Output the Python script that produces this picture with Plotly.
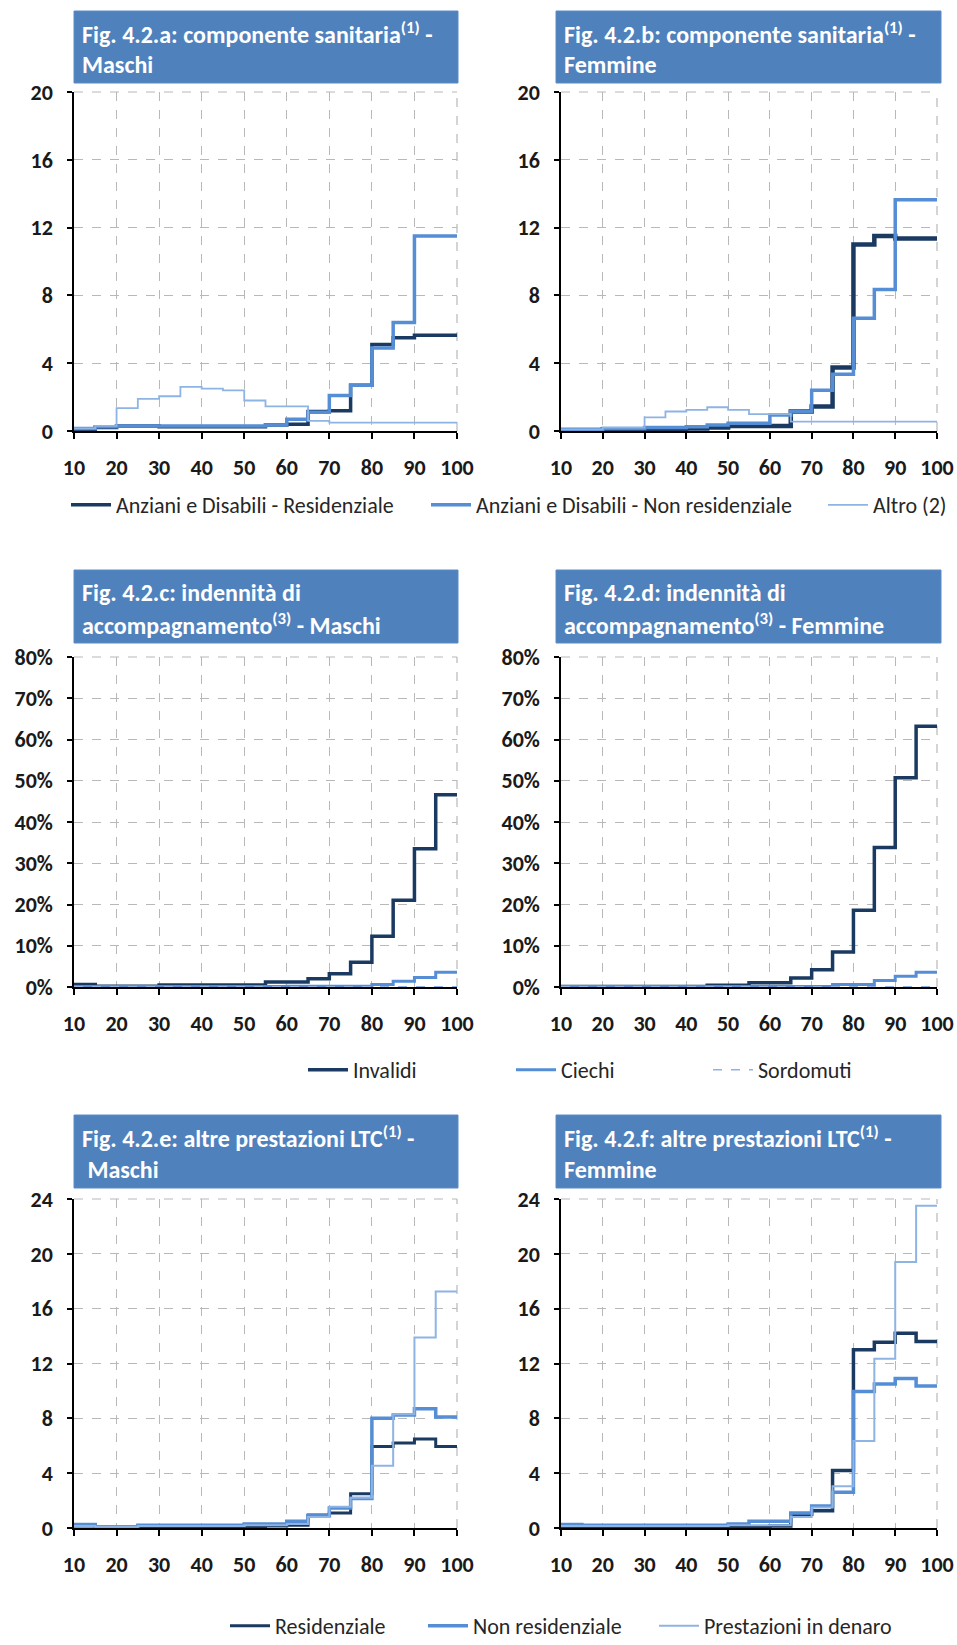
import plotly.graph_objects as go

W, H = 957, 1645

# age bands (start of each 5-year band), last band closes at 100
AGES = [10, 15, 20, 25, 30, 35, 40, 45, 50, 55, 60, 65, 70, 75, 80, 85, 90, 95]
AGE_END = 100

# Fig. 4.2.a / 4.2.b - componente sanitaria
san_res_m = [0.1, 0.2, 0.3, 0.3, 0.25, 0.25, 0.25, 0.25, 0.25, 0.35, 0.4, 1.15, 1.2, 2.7, 5.1, 5.5, 5.65, 5.65]
san_nres_m = [0.15, 0.25, 0.3, 0.3, 0.3, 0.3, 0.3, 0.3, 0.3, 0.35, 0.7, 1.1, 2.1, 2.7, 4.9, 6.4, 11.5, 11.5]
san_altro_m = [0.15, 0.3, 1.35, 1.9, 2.05, 2.6, 2.5, 2.4, 1.8, 1.45, 1.45, 0.6, 0.5, 0.5, 0.5, 0.5, 0.5, 0.5]
san_res_f = [0.05, 0.05, 0.1, 0.1, 0.1, 0.1, 0.15, 0.2, 0.3, 0.3, 0.3, 1.15, 1.45, 3.75, 11.0, 11.5, 11.35, 11.35]
san_nres_f = [0.1, 0.1, 0.15, 0.15, 0.2, 0.2, 0.25, 0.35, 0.45, 0.45, 0.95, 1.15, 2.4, 3.35, 6.65, 8.35, 13.65, 13.65]
san_altro_f = [0.1, 0.1, 0.2, 0.2, 0.8, 1.15, 1.25, 1.4, 1.25, 1.0, 1.0, 0.55, 0.55, 0.55, 0.55, 0.55, 0.55, 0.55]

# Fig. 4.2.c / 4.2.d - indennita di accompagnamento (%)
ind_inv_m = [0.6, 0.2, 0.2, 0.2, 0.5, 0.5, 0.5, 0.5, 0.5, 1.2, 1.2, 2.0, 3.2, 6.0, 12.3, 21.0, 33.5, 46.6]
ind_cie_m = [0.1, 0.1, 0.1, 0.1, 0.1, 0.1, 0.1, 0.1, 0.1, 0.15, 0.2, 0.2, 0.2, 0.2, 0.6, 1.4, 2.3, 3.6]
ind_sor_m = [0.05, 0.05, 0.05, 0.05, 0.05, 0.05, 0.05, 0.05, 0.05, 0.05, 0.05, 0.05, 0.05, 0.05, 0.05, 0.05, 0.05, 0.05]
ind_inv_f = [0.1, 0.1, 0.1, 0.1, 0.1, 0.1, 0.1, 0.4, 0.4, 1.0, 1.0, 2.2, 4.2, 8.5, 18.6, 33.8, 50.7, 63.2]
ind_cie_f = [0.1, 0.1, 0.1, 0.1, 0.1, 0.1, 0.1, 0.1, 0.1, 0.1, 0.15, 0.15, 0.15, 0.6, 0.6, 1.6, 2.6, 3.6]
ind_sor_f = [0.05, 0.05, 0.05, 0.05, 0.05, 0.05, 0.05, 0.05, 0.05, 0.05, 0.05, 0.05, 0.05, 0.05, 0.05, 0.05, 0.05, 0.05]

# Fig. 4.2.e / 4.2.f - altre prestazioni LTC
ltc_res_m = [0.15, 0.1, 0.1, 0.1, 0.1, 0.1, 0.1, 0.1, 0.1, 0.15, 0.2, 0.95, 1.1, 2.5, 5.95, 6.2, 6.5, 5.95]
ltc_nres_m = [0.25, 0.1, 0.1, 0.2, 0.2, 0.2, 0.2, 0.2, 0.3, 0.3, 0.5, 0.9, 1.45, 2.15, 8.0, 8.25, 8.7, 8.1]
ltc_den_m = [0.15, 0.1, 0.1, 0.15, 0.15, 0.15, 0.15, 0.15, 0.2, 0.2, 0.3, 0.8, 1.55, 2.2, 4.55, 8.3, 13.9, 17.25]
ltc_res_f = [0.1, 0.1, 0.1, 0.1, 0.1, 0.1, 0.1, 0.1, 0.1, 0.1, 0.15, 1.0, 1.25, 4.2, 13.0, 13.55, 14.2, 13.6]
ltc_nres_f = [0.25, 0.2, 0.2, 0.2, 0.2, 0.2, 0.2, 0.2, 0.3, 0.5, 0.5, 1.1, 1.6, 2.6, 9.95, 10.5, 10.9, 10.35]
ltc_den_f = [0.15, 0.15, 0.15, 0.15, 0.15, 0.15, 0.15, 0.15, 0.2, 0.2, 0.2, 0.8, 1.5, 3.05, 6.35, 12.35, 19.4, 23.5]

DARK = '#1B3A61'
MID = '#558ED5'
LIGHT = '#8EB4E3'
BOX = '#4F81BD'
GRID = '#B8B8B8'
FONT = 'Carlito, Lato, sans-serif'


def fx(p):
    return p / W


def fy(p):
    return 1 - p / H


cols = [(74, 457), (561, 937)]
rows = [(92, 431), (657, 987), (1199, 1528)]
boxes_x = [(74, 458), (556, 941)]
boxes_y = [(11, 83), (570, 643), (1115, 1188)]

titles = [
    ('Fig. 4.2.a: componente sanitaria<sup>(1)</sup> -', 'Maschi'),
    ('Fig. 4.2.b: componente sanitaria<sup>(1)</sup> -', 'Femmine'),
    ('Fig. 4.2.c: indennità di', 'accompagnamento<sup>(3)</sup> - Maschi'),
    ('Fig. 4.2.d: indennità di', 'accompagnamento<sup>(3)</sup> - Femmine'),
    ('Fig. 4.2.e: altre prestazioni LTC<sup>(1)</sup> -', '\u00a0Maschi'),
    ('Fig. 4.2.f: altre prestazioni LTC<sup>(1)</sup> -', 'Femmine'),
]

yranges = [(20, 4, ''), (20, 4, ''), (80, 10, '%'), (80, 10, '%'), (24, 4, ''), (24, 4, '')]

# (name, values, color, width, dash, legend)
series = [
    [('Anziani e Disabili - Residenziale', san_res_m, DARK, 3.5, 'solid', 'legend'),
     ('Anziani e Disabili - Non residenziale', san_nres_m, MID, 3.5, 'solid', 'legend2'),
     ('Altro (2)', san_altro_m, LIGHT, 1.8, 'solid', 'legend3')],
    [('Anziani e Disabili - Residenziale', san_res_f, DARK, 4.5, 'solid', None),
     ('Anziani e Disabili - Non residenziale', san_nres_f, MID, 3.5, 'solid', None),
     ('Altro (2)', san_altro_f, LIGHT, 1.8, 'solid', None)],
    [('Invalidi', ind_inv_m, DARK, 3.5, 'solid', 'legend4'),
     ('Ciechi', ind_cie_m, MID, 3, 'solid', 'legend5'),
     ('Sordomuti', ind_sor_m, LIGHT, 1.5, 'dash', 'legend6')],
    [('Invalidi', ind_inv_f, DARK, 3.5, 'solid', None),
     ('Ciechi', ind_cie_f, MID, 3, 'solid', None),
     ('Sordomuti', ind_sor_f, LIGHT, 1.5, 'dash', None)],
    [('Residenziale', ltc_res_m, DARK, 3, 'solid', 'legend7'),
     ('Non residenziale', ltc_nres_m, MID, 3.5, 'solid', 'legend8'),
     ('Prestazioni in denaro', ltc_den_m, LIGHT, 2, 'solid', 'legend9')],
    [('Residenziale', ltc_res_f, DARK, 3.5, 'solid', None),
     ('Non residenziale', ltc_nres_f, MID, 3.5, 'solid', None),
     ('Prestazioni in denaro', ltc_den_f, LIGHT, 2, 'solid', None)],
]

fig = go.Figure()
layout = {}
shapes = []
annotations = []

for i in range(6):
    r, c = divmod(i, 2)
    n = '' if i == 0 else str(i + 1)
    x0, x1 = cols[c]
    y0, y1 = rows[r]
    ymax, ystep, suffix = yranges[i]
    layout['xaxis' + n] = dict(
        domain=[fx(x0), fx(x1)], anchor='y' + n, range=[10, 100], dtick=10, tick0=10,
        showline=True, linecolor='black', linewidth=1.5, ticks='outside', ticklen=6,
        tickcolor='black', tickwidth=1.5, showgrid=True, gridcolor=GRID,
        griddash='dash', gridwidth=1.2, zeroline=False, ticklabelstandoff=10,
        automargin=False,
        tickfont=dict(family=FONT, size=22, color='#1a1a1a', weight='bold'),
    )
    layout['yaxis' + n] = dict(
        domain=[fy(y1), fy(y0)], anchor='x' + n, range=[0, ymax], dtick=ystep,
        ticksuffix=suffix, showline=True, linecolor='black', linewidth=1.5,
        ticks='outside', ticklen=5, tickcolor='black', tickwidth=1.5,
        showgrid=True, gridcolor=GRID, griddash='dash', gridwidth=1.2,
        zeroline=False, ticklabelstandoff=10, automargin=False,
        tickfont=dict(family=FONT, size=22, color='#1a1a1a', weight='bold'),
    )
    # dashed top and right frame, like the gridlines
    for sx0, sx1, sy0, sy1 in [(0, 1, 1, 1), (1, 1, 0, 1)]:
        shapes.append(dict(type='line', xref='x' + n + ' domain', yref='y' + n + ' domain',
                           x0=sx0, x1=sx1, y0=sy0, y1=sy1, layer='below',
                           line=dict(color=GRID, width=1.2, dash='dash')))
    for name, vals, color, width, dash, leg in series[i]:
        fig.add_trace(go.Scatter(
            x=AGES + [AGE_END], y=vals + [vals[-1]], name=name, mode='lines',
            line=dict(color=color, width=width, dash=dash, shape='hv'),
            xaxis='x' + n, yaxis='y' + n,
            showlegend=leg is not None, legend=leg if leg else 'legend',
            hoverinfo='skip',
        ))
    bx0, bx1 = boxes_x[c]
    by0, by1 = boxes_y[r]
    shapes.append(dict(type='rect', xref='paper', yref='paper',
                       x0=fx(bx0), x1=fx(bx1), y0=fy(by1), y1=fy(by0),
                       fillcolor=BOX, line=dict(color='#5b8cc6', width=1), layer='below'))
    for k, line in enumerate(titles[i]):
        annotations.append(dict(
            xref='paper', yref='paper', x=fx(bx0 + 6), y=fy(by0 + (22 if k == 0 else 54)),
            xanchor='left', yanchor='middle', showarrow=False, text=line,
            font=dict(family=FONT, size=24, color='white', weight='bold'),
        ))

# legends: (legend id, text start x, row y)
leg_pos = [
    ('legend', 118, 505), ('legend2', 478, 505), ('legend3', 875, 505),
    ('legend4', 355, 1070), ('legend5', 563, 1070), ('legend6', 760, 1070),
    ('legend7', 277, 1626), ('legend8', 475, 1626), ('legend9', 706, 1626),
]
for lid, tx, ty in leg_pos:
    layout[lid] = dict(
        x=fx(tx - 52), y=fy(ty), xref='container', yref='container',
        xanchor='left', yanchor='middle',
        orientation='h', bgcolor='rgba(0,0,0,0)', itemwidth=40,
        font=dict(family=FONT, size=22, color='#262626'),
    )

fig.update_layout(
    width=W, height=H, autosize=False,
    margin=dict(l=0, r=0, t=0, b=0, autoexpand=False),
    paper_bgcolor='white', plot_bgcolor='white',
    shapes=shapes, annotations=annotations,
    **layout,
)

fig.write_html('out.html', config={'displayModeBar': False},
               post_script="document.body.style.margin='0';document.body.style.overflow='hidden';")
